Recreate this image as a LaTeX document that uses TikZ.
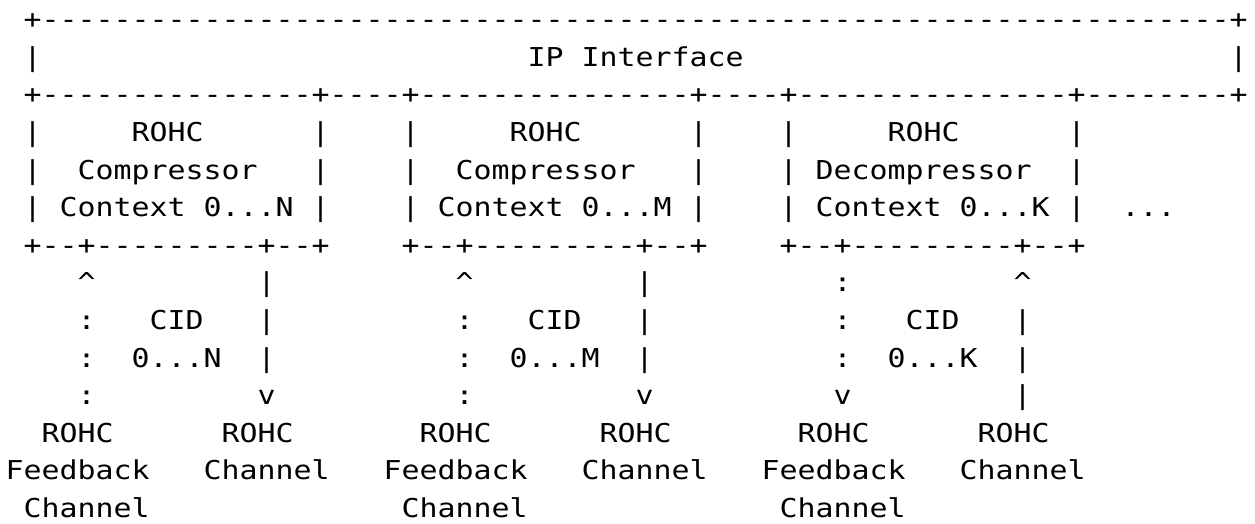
\documentclass[tikz,border=0pt]{standalone}
\usepackage{fontspec}
\newfontfamily\asciifont{DejaVu Sans Mono}[FakeStretch=1.15,Ligatures=TeXOff]
\ExplSyntaxOn
\cs_new:Npn \dashrun #1 { \prg_replicate:nn {#1} {-} }
\ExplSyntaxOff
\tikzset{txt/.style={anchor=base west, inner sep=0pt, outer sep=0pt,
  font=\asciifont\fontsize{13pt}{15pt}\selectfont}}
\begin{document}
\begin{tikzpicture}[x=9pt,y=-18.8pt]
\fill[white] (-2.85pt,14.4pt) rectangle (624.65pt,-247.6pt);
\useasboundingbox (-2.85pt,14.4pt) rectangle (624.65pt,-247.6pt);
% row 1-3: IP interface box
\node[txt] (iptop) at (1,0) {+\dashrun{66}+};
\node[txt] (ipl) at (1,1) {|};
\node[txt] (ipa) at (29,1) {IP};
\node[txt] (ipb) at (32,1) {Interface};
\node[txt] (ipr) at (68,1) {|};
\node[txt] (ipbot) at (1,2) {+\dashrun{15}+\dashrun{4}+\dashrun{15}+\dashrun{4}+\dashrun{15}+\dashrun{8}+};
% rows 4-6: context boxes
\foreach \c/\n in {1/a,17/b,22/c,38/d,43/e,59/f}{
  \node[txt] (v4\n) at (\c,3) {|};
  \node[txt] (v5\n) at (\c,4) {|};
  \node[txt] (v6\n) at (\c,5) {|};
}
\node[txt] (r1) at (7,3) {ROHC};
\node[txt] (r2) at (28,3) {ROHC};
\node[txt] (r3) at (49,3) {ROHC};
\node[txt] (c1) at (4,4) {Compressor};
\node[txt] (c2) at (25,4) {Compressor};
\node[txt] (c3) at (45,4) {Decompressor};
\node[txt] (x1) at (3,5) {Context};
\node[txt] (n1) at (11,5) {0...N};
\node[txt] (x2) at (24,5) {Context};
\node[txt] (n2) at (32,5) {0...M};
\node[txt] (x3) at (45,5) {Context};
\node[txt] (n3) at (53,5) {0...K};
\node[txt] (more) at (62,5) {...};
\node[txt] (b1) at (1,6) {+\dashrun{2}+\dashrun{9}+\dashrun{2}+};
\node[txt] (b2) at (22,6) {+\dashrun{2}+\dashrun{9}+\dashrun{2}+};
\node[txt] (b3) at (43,6) {+\dashrun{2}+\dashrun{9}+\dashrun{2}+};
% rows 8-11: channels
\node[txt] (u1) at (4,7) {\textasciicircum};
\node[txt] (d1) at (14,7) {|};
\node[txt] (u2) at (25,7) {\textasciicircum};
\node[txt] (d2) at (35,7) {|};
\node[txt] (u3) at (46,7) {:};
\node[txt] (d3) at (56,7) {\textasciicircum};
\foreach \c/\n in {4/a,25/b,46/c}{
  \node[txt] (k9\n) at (\c,8) {:};
  \node[txt] (k10\n) at (\c,9) {:};
}
\foreach \c/\n in {14/a,35/b,56/c}{
  \node[txt] (p9\n) at (\c,8) {|};
  \node[txt] (p10\n) at (\c,9) {|};
}
\node[txt] (cid1) at (8,8) {CID};
\node[txt] (cid2) at (29,8) {CID};
\node[txt] (cid3) at (50,8) {CID};
\node[txt] (rg1) at (7,9) {0...N};
\node[txt] (rg2) at (28,9) {0...M};
\node[txt] (rg3) at (49,9) {0...K};
\node[txt] (e1) at (4,10) {:};
\node[txt] (f1) at (14,10) {v};
\node[txt] (e2) at (25,10) {:};
\node[txt] (f2) at (35,10) {v};
\node[txt] (e3) at (46,10) {v};
\node[txt] (f3) at (56,10) {|};
% rows 12-14: labels
\foreach \c/\n in {2/a,12/b,23/c,33/d,44/e,54/f}{
  \node[txt] (rohc\n) at (\c,11) {ROHC};
}
\foreach \c/\n in {0/a,21/b,42/c}{
  \node[txt] (fb\n) at (\c,12) {Feedback};
  \node[txt] (fc\n) at ({\c+1},13) {Channel};
}
\foreach \c/\n in {11/a,32/b,53/c}{
  \node[txt] (ch\n) at (\c,12) {Channel};
}
\end{tikzpicture}
\end{document}
